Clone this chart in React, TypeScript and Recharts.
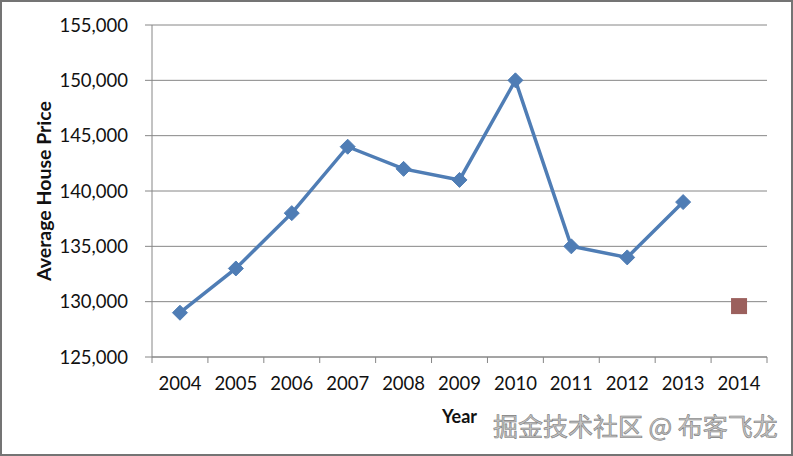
import { LineChart, Line, XAxis, YAxis, CartesianGrid } from 'recharts';

const years = ['2004', '2005', '2006', '2007', '2008', '2009', '2010', '2011', '2012', '2013', '2014'];
const prices = [129000, 133000, 138000, 144000, 142000, 141000, 150000, 135000, 134000, 139000, null];
const predicted = [null, null, null, null, null, null, null, null, null, null, 129600];
const yTicks = [125000, 130000, 135000, 140000, 145000, 150000, 155000];

const data = years.map((year, i) => ({ year, price: prices[i], predicted: predicted[i] }));

const BLUE = '#4F7DB5';
const RED = '#9B605D';
const GRID = '#868686';
const FONT = 'Lato, "Open Sans", sans-serif';

const Diamond = (props: any) => {
  const { cx, cy, value } = props;
  if (value == null || cx == null || cy == null) return null;
  const r = 7.5;
  return (
    <polygon
      points={`${cx},${cy - r} ${cx + r},${cy} ${cx},${cy + r} ${cx - r},${cy}`}
      fill={BLUE}
      stroke={BLUE}
    />
  );
};

const Square = (props: any) => {
  const { cx, cy, value } = props;
  if (value == null || cx == null || cy == null) return null;
  const s = 8;
  return <rect x={cx - s} y={cy - s} width={s * 2} height={s * 2} fill={RED} />;
};

const XTick = (props: any) => {
  const { x, y, payload, index, visibleTicksCount } = props;
  const half = payload?.offset ?? 28;
  const last = index === visibleTicksCount - 1;
  return (
    <g>
      <line x1={x - half} y1={y} x2={x - half} y2={y + 6} stroke={GRID} />
      {last && <line x1={x + half} y1={y} x2={x + half} y2={y + 6} stroke={GRID} />}
      <text x={x} y={y + 33} textAnchor="middle" fill="#111" fontSize={18.5} fontFamily={FONT}>
        {payload.value}
      </text>
    </g>
  );
};

export default function App() {
  return (
    <div
      style={{
        position: 'absolute',
        left: 0,
        top: 0,
        width: 793,
        height: 456,
        boxSizing: 'border-box',
        border: '2px solid #747474',
        background: '#fff',
      }}
    >
      <LineChart width={789} height={452} data={data} margin={{ top: 23, right: 24, bottom: 0, left: 0 }}>
        <CartesianGrid vertical={false} stroke={GRID} strokeWidth={1} />
        <XAxis
          dataKey="year"
          scale="band"
          height={97}
          axisLine={{ stroke: GRID }}
          tickLine={false}
          tickSize={0}
          tickMargin={0}
          interval={0}
          tick={<XTick />}
          label={{
            value: 'Year',
            position: 'insideBottom',
            offset: 31,
            style: { fontFamily: FONT, fontWeight: 700, fontSize: 18, fill: '#111' },
          }}
        />
        <YAxis
          width={150}
          domain={[125000, 155000]}
          ticks={yTicks}
          interval={0}
          axisLine={{ stroke: GRID }}
          tickLine={{ stroke: GRID }}
          tickSize={7}
          tickMargin={17}
          tick={{ fill: '#111', fontSize: 18.5, fontFamily: FONT }}
          tickFormatter={(v: number) => v.toLocaleString('en-US')}
          label={{
            content: (p: any) => {
              const vb = p.viewBox || { x: 0, y: 23, width: 150, height: 332 };
              const cx = vb.x + 48.5;
              const cy = vb.y + vb.height / 2;
              return (
                <text
                  x={cx}
                  y={cy}
                  transform={`rotate(-90, ${cx}, ${cy})`}
                  textAnchor="middle"
                  fill="#111"
                  fontSize={19.5}
                  fontWeight={700}
                  fontFamily={FONT}
                >
                  Average House Price
                </text>
              );
            },
          }}
        />
        <Line
          dataKey="price"
          type="linear"
          stroke={BLUE}
          strokeWidth={3.5}
          dot={<Diamond />}
          activeDot={false}
          isAnimationActive={false}
        />
        <Line
          dataKey="predicted"
          type="linear"
          stroke="none"
          dot={<Square />}
          activeDot={false}
          isAnimationActive={false}
        />
      </LineChart>
      <div
        style={{
          position: 'absolute',
          left: 491,
          top: 408,
          fontSize: 25,
          lineHeight: '30px',
          fontFamily: '"Noto Sans CJK SC", sans-serif',
          color: '#c4c4c4',
          WebkitTextStroke: '0.6px #7c7c7c',
          whiteSpace: 'nowrap',
        }}
      >
        掘金技术社区 @ 布客飞龙
      </div>
    </div>
  );
}
